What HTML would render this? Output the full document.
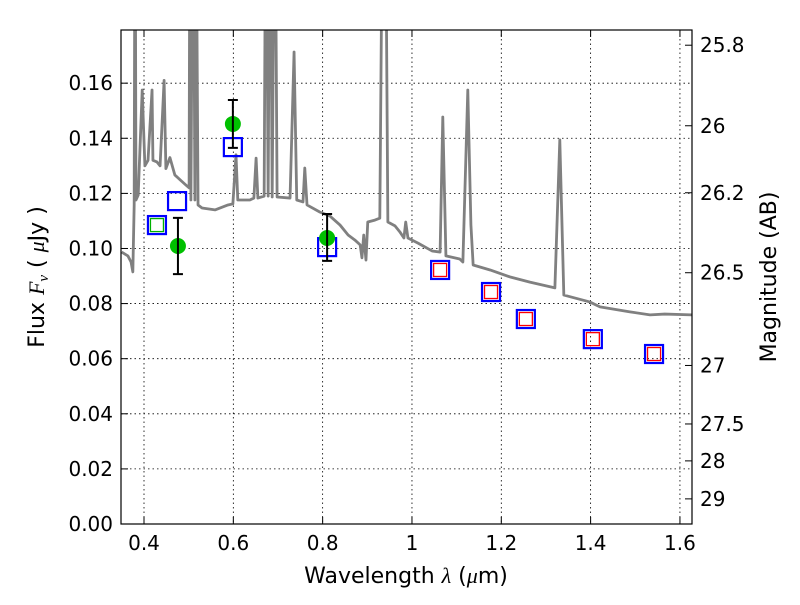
<!DOCTYPE html>
<html><head><meta charset="utf-8"><style>
body{margin:0;background:#fff;}
text{font-family:"DejaVu Sans","Liberation Sans",sans-serif;fill:#000;}
</style></head><body>
<svg id="chart" width="800" height="600" xmlns="http://www.w3.org/2000/svg">
<rect width="800" height="600" fill="#fff"/>
<defs><clipPath id="pc"><rect x="121" y="30" width="571" height="494"/></clipPath></defs>
<g id="grid"></g>
<g id="spec" clip-path="url(#pc)"></g>
<g id="marks"></g>
<rect x="121" y="30" width="571" height="494" fill="none" stroke="#000" stroke-width="1.2"/>
<g id="axes"></g>
<text x="406" y="583" font-size="22" text-anchor="middle">Wavelength  <tspan font-style="italic" font-family="Liberation Serif">λ</tspan> (<tspan font-style="italic" font-family="Liberation Serif">μ</tspan>m)</text>
<text transform="translate(44,277) rotate(-90)" font-size="22" text-anchor="middle">Flux  <tspan font-style="italic" font-family="Liberation Serif">F</tspan><tspan font-style="italic" font-family="Liberation Serif" font-size="15" dy="4">ν</tspan><tspan dy="-4">  ( </tspan><tspan font-style="italic" font-family="Liberation Serif">μ</tspan>Jy )</text>
<text transform="translate(776,277) rotate(-90)" font-size="22" text-anchor="middle">Magnitude (AB)</text>
</svg>
<script>
const specLam=[0.350,0.364,0.371,0.375,0.378,0.380,0.382,0.387,0.396,0.402,0.409,0.418,0.420,0.429,0.436,0.445,0.449,0.458,0.469,0.481,0.494,0.501,0.503,0.505,0.510,0.514,0.516,0.521,0.530,0.559,0.588,0.599,0.606,0.610,0.637,0.646,0.651,0.655,0.669,0.673,0.678,0.682,0.687,0.693,0.698,0.727,0.736,0.742,0.756,0.760,0.765,0.794,0.816,0.839,0.857,0.872,0.884,0.888,0.892,0.897,0.901,0.917,0.928,0.935,0.940,0.946,0.962,0.973,0.982,0.986,0.991,1.013,1.045,1.063,1.069,1.076,1.107,1.114,1.125,1.132,1.137,1.175,1.219,1.264,1.320,1.331,1.340,1.398,1.421,1.488,1.533,1.566,1.627];
const specFlux=[0.0987,0.0973,0.0951,0.0915,0.1158,0.25,0.1176,0.1194,0.1575,0.130,0.132,0.1575,0.132,0.1314,0.130,0.161,0.129,0.133,0.1267,0.1249,0.123,0.122,0.25,0.1176,0.25,0.1176,0.25,0.1158,0.1147,0.114,0.1158,0.1162,0.134,0.1176,0.1176,0.1183,0.1328,0.1183,0.119,0.25,0.119,0.25,0.1187,0.25,0.1187,0.1183,0.1713,0.1176,0.1169,0.1292,0.1158,0.1132,0.1118,0.1085,0.1049,0.1031,0.1013,0.0966,0.1049,0.0958,0.1096,0.1103,0.111,0.25,0.25,0.1096,0.1082,0.106,0.1038,0.1096,0.1038,0.102,0.0991,0.0987,0.1477,0.0973,0.0962,0.0951,0.1575,0.1085,0.094,0.0922,0.0897,0.0878,0.0857,0.1394,0.0831,0.0806,0.0788,0.077,0.0759,0.0762,0.0759];
const detLam=[0.476,0.599,0.810];
const detFlux=[0.1009,0.1452,0.1038];
const detErrHi=[0.1111,0.1539,0.1125];
const detErrLo=[0.0907,0.1365,0.0955];
const modLam=[0.429,0.474,0.599,0.810,1.063,1.177,1.255,1.405,1.542];
const modFlux=[0.1085,0.1172,0.1368,0.1005,0.0922,0.0842,0.0744,0.0671,0.0617];
const innerLam=[0.429,1.063,1.177,1.255,1.405,1.542];
const innerFlux=[0.1085,0.0922,0.0842,0.0744,0.0671,0.0617];
const innerColor=["#00b000","red","red","red","red","red"];
const xTicks=[0.4,0.6,0.8,1.0,1.2,1.4,1.6];
const xTickLabels=["0.4","0.6","0.8","1","1.2","1.4","1.6"];
const yTicks=[0,0.02,0.04,0.06,0.08,0.10,0.12,0.14,0.16];
const yTickLabels=["0.00","0.02","0.04","0.06","0.08","0.10","0.12","0.14","0.16"];
const magTicks=[25.8,26,26.2,26.5,27,27.5,28,29];
const magTickLabels=["25.8","26","26.2","26.5","27","27.5","28","29"];

const X0=121,X1=692,Y0=524,Y1=30,LMIN=0.3485,LMAX=1.627,FMIN=0,FMAX=0.1793;
const xs=l=>X0+(l-LMIN)/(LMAX-LMIN)*(X1-X0);
const ys=f=>Y0-(f-FMIN)/(FMAX-FMIN)*(Y0-Y1);
const NS="http://www.w3.org/2000/svg";
function mk(tag,parent,attrs){const e=document.createElementNS(NS,tag);for(const k in attrs)e.setAttribute(k,attrs[k]);parent.appendChild(e);return e;}
const grid=document.getElementById('grid'),axes=document.getElementById('axes'),spec=document.getElementById('spec'),marks=document.getElementById('marks');

xTicks.forEach((t,i)=>{const x=xs(t);
 let g=mk('line',grid,{x1:x,x2:x,y1:Y1,y2:Y0,stroke:'#000','stroke-width':0.8,'stroke-dasharray':'1.5,3'});
 
 let tk=mk('line',axes,{x1:x,x2:x,y1:Y0,y2:Y0-7,stroke:'#000'});
 
 let tk2=mk('line',axes,{x1:x,x2:x,y1:Y1,y2:Y1+7,stroke:'#000'});
 
 let tx=mk('text',axes,{x:x,y:Y0+26,'font-size':20,'text-anchor':'middle'});tx.textContent=xTickLabels[i];
 });
yTicks.forEach((t,i)=>{const y=ys(t);
 let g=mk('line',grid,{x1:X0,x2:X1,y1:y,y2:y,stroke:'#000','stroke-width':0.8,'stroke-dasharray':'1.5,3'});
 
 let tk=mk('line',axes,{x1:X0,x2:X0+7,y1:y,y2:y,stroke:'#000'});
 
 let tx=mk('text',axes,{x:X0-8,y:y+7,'font-size':20,'text-anchor':'end'});tx.textContent=yTickLabels[i];
 });
magTicks.forEach((m,i)=>{const y=ys(Math.pow(10,(23.9-m)/2.5));
 let tk=mk('line',axes,{x1:X1,x2:X1-7,y1:y,y2:y,stroke:'#000'});
 
 let tx=mk('text',axes,{x:X1+8,y:y+7,'font-size':20});tx.textContent=magTickLabels[i];
 });

const pl=mk('polyline',spec,{points:specLam.map((l,i)=>xs(l)+','+ys(specFlux[i])).join(' '),fill:'none',stroke:'#808080','stroke-width':2.8,'stroke-linejoin':'round'});


modLam.forEach((l,i)=>{const x=xs(l),y=ys(modFlux[i]);
 const r=mk('rect',marks,{x:x-9,y:y-9,width:18,height:18,fill:'none',stroke:'#0000ff','stroke-width':2.2});
 });
innerLam.forEach((l,i)=>{const x=xs(l),y=ys(innerFlux[i]);
 const r=mk('rect',marks,{x:x-6.5,y:y-6.5,width:13,height:13,fill:'none',stroke:innerColor[i],'stroke-width':1.3});
 });
detLam.forEach((l,i)=>{const x=xs(l);
 const c=mk('circle',marks,{cx:x,cy:ys(detFlux[i]),r:8,fill:'#00c000'});
 
 const e=mk('path',marks,{d:`M${x},${ys(detErrHi[i])}V${ys(detErrLo[i])}M${x-5},${ys(detErrHi[i])}H${x+5}M${x-5},${ys(detErrLo[i])}H${x+5}`,stroke:'#000','stroke-width':2,fill:'none'});
 });
</script>
</body></html>
